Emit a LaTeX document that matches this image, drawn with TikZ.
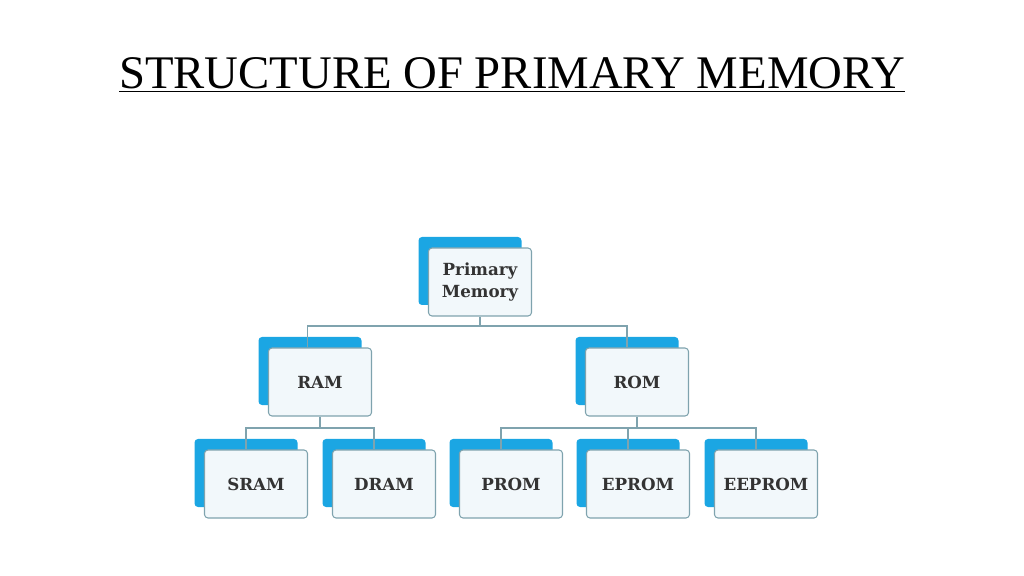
\documentclass[tikz,border=0pt]{standalone}
\usepackage{fontspec}
\setmainfont{Liberation Serif}
\newfontfamily\boxfont{DejaVu Serif}
\usetikzlibrary{positioning,shadows}
\definecolor{memblue}{HTML}{1BA6E3}
\definecolor{memline}{HTML}{7FA3AE}
\definecolor{memfill}{HTML}{F2F8FB}
\tikzset{
  membox/.style={draw=memline,line width=0.6pt,fill=memfill,rounded corners=2pt,
    minimum width=2.06cm,minimum height=1.36cm,align=center,text=black!80,
    font=\boxfont\bfseries\fontsize{9.5}{12}\selectfont,
    general shadow={fill=memblue,shadow xshift=-0.2cm,shadow yshift=0.22cm}},
  memlink/.style={draw=memline,line width=0.8pt}
}
\begin{document}
\begin{tikzpicture}
\useasboundingbox (0,0) rectangle (20.48,-11.52);
\node [font=\fontsize{26.6}{30}\selectfont] (title) at (10.24,-1.5) {\underline{STRUCTURE OF PRIMARY MEMORY}};

\node [membox] (pm) at (9.6,-5.64) {Primary\\Memory};
\node [membox] (ram) at (6.4,-7.64) {RAM};
\node [membox] (rom) at (12.74,-7.64) {ROM};
\node [membox] (sram) at (5.12,-9.68) {SRAM};
\node [membox] (dram) at (7.68,-9.68) {DRAM};
\node [membox] (prom) at (10.22,-9.68) {PROM};
\node [membox] (eprom) at (12.76,-9.68) {EPROM};
\node [membox] (eeprom) at (15.32,-9.68) {EEPROM};

\coordinate (pmbus) at (9.6,-6.52);
\coordinate (rambus) at (6.4,-8.56);
\coordinate (rombus) at (12.74,-8.56);
\draw [memlink] (pm) -- (pmbus);
\draw [memlink] (pmbus) -| ([xshift=-0.25cm]ram.north);
\draw [memlink] (pmbus) -| ([xshift=-0.2cm]rom.north);
\draw [memlink] (ram) -- (rambus);
\draw [memlink] (rambus) -| ([xshift=-0.2cm]sram.north);
\draw [memlink] (rambus) -| ([xshift=-0.2cm]dram.north);
\draw [memlink] (rom) -- (rombus);
\draw [memlink] (rombus) -| ([xshift=-0.2cm]prom.north);
\draw [memlink] (rombus) -| ([xshift=-0.2cm]eprom.north);
\draw [memlink] (rombus) -| ([xshift=-0.2cm]eeprom.north);
\end{tikzpicture}
\end{document}
